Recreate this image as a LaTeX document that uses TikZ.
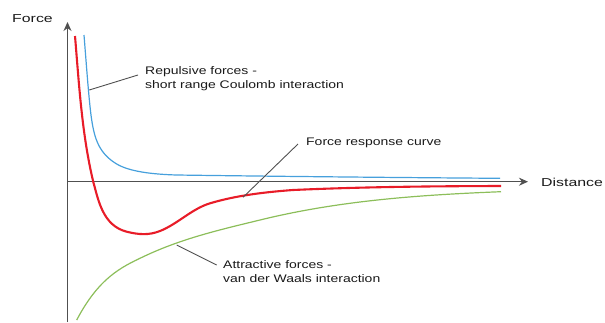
\documentclass[tikz,border=0pt]{standalone}
\usepackage{fontspec}
\usepackage{graphicx}
\setmainfont{Liberation Sans}
\usetikzlibrary{arrows.meta}
\definecolor{repblue}{RGB}{70,160,220}
\definecolor{resred}{RGB}{232,28,40}
\definecolor{attgreen}{RGB}{140,190,90}
\definecolor{axisgray}{RGB}{80,80,80}
\newcommand{\stretchA}[1]{\scalebox{1.27}[1]{#1}}
\newcommand{\stretchB}[1]{\scalebox{1.38}[1]{#1}}
\begin{document}
\begin{tikzpicture}[x=1pt,y=-1pt,
  axisline/.style={draw=axisgray,line width=1.3pt,-{Stealth[length=9pt,width=8pt]}},
  leader/.style={draw=axisgray,line width=0.9pt},
  annot/.style={font=\fontsize{11}{14}\selectfont,text=black!90,align=left,inner sep=0pt,anchor=west},
  axlabel/.style={font=\fontsize{11.5}{14}\selectfont,text=black!90,inner sep=0pt}]
\useasboundingbox (0,0) rectangle (605,322);
% axes
\coordinate (o) at (67.5,181.7);
\coordinate (ybot) at (67.5,322);
\coordinate (ytop) at (67.5,22);
\coordinate (xend) at (528,181.7);
\draw[axisline] (ybot) -- (ytop);
\draw[axisline] (o) -- (xend);
\node[axlabel] (force) at (32.5,18.5) {\stretchB{Force}};
\node[axlabel,anchor=west] (dist) at (541,182) {\stretchB{Distance}};
% repulsive (blue)
\draw[repblue,line width=1.2pt] (84,35)
  .. controls (86.57,67) and (89.13,103.3) .. (91.7,120)
  .. controls (94.7,139.8) and (99.6,153.7) .. (116.7,164)
  .. controls (129.6,171.7) and (152.7,174.3) .. (176.7,175)
  .. controls (260,176.2) and (400,177.6) .. (500,178.3);
% force response (red)
\draw[resred,line width=2.1pt] (75,36)
  .. controls (79.1,84.8) and (81.9,134.3) .. (93.3,182)
  .. controls (98.25,199.3) and (102.45,225.6) .. (126.7,231.7)
  .. controls (138.3,234.6) and (148.9,235.5) .. (160,231)
  .. controls (177.6,224) and (191.8,208.8) .. (210,203.3)
  .. controls (236.8,195.3) and (265.1,192.1) .. (293,190)
  .. controls (362,186.9) and (430,186.2) .. (501,186);
% attractive (green)
\draw[attgreen,line width=1.2pt] (76.7,320)
  .. controls (98.9,277.8) and (121.1,267.2) .. (143.3,256.7)
  .. controls (182.2,238.2) and (221.1,229.5) .. (260,220)
  .. controls (340.3,200.3) and (420.7,194.9) .. (501,191.7);
% labels
\node[annot] (rep) at (145,78.7) {\stretchA{Repulsive forces -}\\\stretchA{short range Coulomb interaction}};
\node[annot] (resp) at (306,143.3) {\stretchA{Force response curve}};
\node[annot] (att) at (223,272) {\stretchA{Attractive forces -}\\\stretchA{van der Waals interaction}};
% leaders
\coordinate (repA) at (89.3,90);
\coordinate (repB) at (138,75);
\coordinate (respA) at (243,197.3);
\coordinate (respB) at (298,144);
\coordinate (attA) at (176.7,245);
\coordinate (attB) at (216.7,265);
\draw[leader] (repA) -- (repB);
\draw[leader] (respA) -- (respB);
\draw[leader] (attA) -- (attB);
\end{tikzpicture}
\end{document}
